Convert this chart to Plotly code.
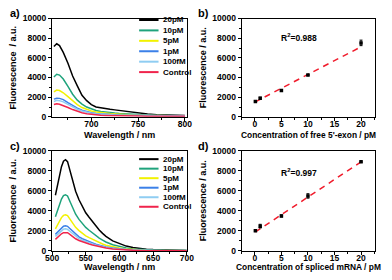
import plotly.graph_objects as go

# ---------------- data ----------------
series_names = ["20pM", "10pM", "5pM", "1pM", "100fM", "Control"]
series_colors = ["#000000", "#1fa37c", "#f2f200", "#3b80e8", "#8fcdf2", "#f0244c"]

wl_a = [660, 663, 666, 670, 675, 680, 685, 690, 695, 700, 705, 710, 715, 720, 725,
        730, 740, 750, 760, 770, 780, 790, 800]
a_20pM = [7150, 7430, 7250, 6550, 5450, 4150, 3150, 2200, 1650, 1250, 1000, 900, 830, 770,
          710, 640, 500, 350, 280, 220, 180, 150, 130]
a_10pM = [4050, 4330, 4250, 3850, 3100, 2300, 1700, 1300, 1000, 800, 650, 540, 470, 420,
          380, 340, 280, 220, 180, 150, 130, 110, 100]
a_5pM = [2550, 2720, 2680, 2450, 2050, 1600, 1250, 950, 750, 600, 500, 420, 370, 330,
         300, 270, 220, 180, 150, 130, 110, 100, 90]
a_1pM = [1800, 1900, 1880, 1750, 1450, 1150, 880, 680, 520, 420, 350, 300, 260, 230,
         210, 190, 160, 140, 120, 110, 100, 90, 80]
a_100fM = [1550, 1680, 1650, 1520, 1270, 1000, 780, 600, 470, 380, 320, 270, 240, 210,
           190, 170, 150, 130, 120, 110, 100, 95, 90]
a_control = [1250, 1320, 1280, 1150, 950, 740, 560, 420, 320, 250, 200, 170, 150, 130,
             120, 110, 90, 80, 70, 60, 55, 50, 50]

wl_c = [505, 508, 511, 514, 517, 520, 523, 526, 530, 535, 540, 545, 550, 555, 560, 565,
        570, 575, 580, 590, 600, 610, 620, 630, 640, 650, 670, 700]
c_20pM = [5550, 6600, 7600, 8400, 8950, 9100, 8900, 8200, 7200, 5950, 5100, 4400, 3800,
          3350, 2900, 2450, 2080, 1750, 1450, 1000, 700, 480, 330, 230, 170, 130, 80, 50]
c_10pM = [3400, 4060, 4680, 5170, 5510, 5600, 5480, 5040, 4420, 3660, 3140, 2710, 2340,
          2060, 1790, 1510, 1280, 1080, 890, 620, 430, 300, 200, 140, 100, 80, 50, 30]
c_5pM = [2200, 2610, 3010, 3320, 3540, 3600, 3520, 3240, 2840, 2350, 2020, 1740, 1500,
         1320, 1150, 970, 820, 690, 570, 400, 280, 190, 130, 90, 70, 50, 30, 20]
c_1pM = [1650, 1850, 2100, 2320, 2460, 2500, 2450, 2250, 1980, 1640, 1400, 1210, 1050,
         920, 800, 670, 570, 480, 400, 280, 190, 130, 90, 60, 50, 35, 20, 15]
c_100fM = [1450, 1630, 1850, 2040, 2170, 2200, 2150, 1980, 1740, 1440, 1230, 1060, 920,
           810, 700, 590, 500, 420, 350, 240, 170, 120, 80, 55, 40, 30, 20, 10]
c_control = [1150, 1350, 1550, 1710, 1820, 1850, 1810, 1670, 1460, 1210, 1040, 900, 770,
             680, 590, 500, 420, 360, 290, 200, 140, 100, 70, 45, 35, 25, 15, 10]

conc_b = [0.1, 1, 5, 10, 20]
fluor_b = [1570, 1900, 2680, 4250, 7520]
err_b = [60, 100, 80, 60, 280]
fit_b_x = [0, 20]
fit_b_y = [1500, 7120]

conc_d = [0.1, 1, 5, 10, 20]
fluor_d = [2020, 2470, 3490, 5480, 8880]
err_d = [60, 180, 100, 220, 60]
fit_d_x = [0.1, 20]
fit_d_y = [1890, 8880]

r2_b = "R<sup>2</sup>=0.988"
r2_d = "R<sup>2</sup>=0.997"

xtitle_a = "Wavelength / nm"
xtitle_b = "Concentration of free 5'-exon / pM"
xtitle_c = "Wavelength / nm"
xtitle_d = "Concentration of spliced mRNA / pM"

# ---------------- figure ----------------
FONT = "Arial, Liberation Sans, sans-serif"
fig = go.Figure()

spectra_a = [a_20pM, a_10pM, a_5pM, a_1pM, a_100fM, a_control]
spectra_c = [c_20pM, c_10pM, c_5pM, c_1pM, c_100fM, c_control]

for vals, col in zip(spectra_a, series_colors):
    fig.add_trace(go.Scatter(x=wl_a, y=vals, mode="lines", line=dict(color=col, width=1.5),
                             xaxis="x", yaxis="y", showlegend=False))
for vals, col in zip(spectra_c, series_colors):
    fig.add_trace(go.Scatter(x=wl_c, y=vals, mode="lines", line=dict(color=col, width=1.5),
                             xaxis="x3", yaxis="y3", showlegend=False))

for xs, ys, es, fx, fy, xa, ya in [(conc_b, fluor_b, err_b, fit_b_x, fit_b_y, "x2", "y2"),
                                   (conc_d, fluor_d, err_d, fit_d_x, fit_d_y, "x4", "y4")]:
    fig.add_trace(go.Scatter(x=fx, y=fy, mode="lines",
                             line=dict(color="#f01c2c", width=1.5, dash="6px,5px"),
                             xaxis=xa, yaxis=ya, showlegend=False))
    fig.add_trace(go.Scatter(x=xs, y=ys, mode="markers",
                             marker=dict(symbol="square", size=3.5, color="black"),
                             error_y=dict(type="data", array=es, color="black",
                                          thickness=1, width=1.5),
                             xaxis=xa, yaxis=ya, showlegend=False))

W, H = 392, 280
def dom_x(p0, p1):
    return [p0 / W, p1 / W]
def dom_y(top, bottom):
    return [1 - bottom / H, 1 - top / H]

tickfont = dict(family=FONT, size=8.5, color="black", weight="bold")
titlefont = dict(family=FONT, size=9, color="black", weight="bold")

def axis_common(**kw):
    d = dict(showline=True, mirror=True, linecolor="black", linewidth=1,
             ticks="outside", ticklen=3, tickwidth=1, tickcolor="black",
             showgrid=False, zeroline=False, tickfont=tickfont, tickformat="d")
    d.update(kw)
    return d

ytitle_spec = "Fluorescence  / a.u."
ytitle_cal = "Fluorescence / a.u."

fig.update_layout(
    width=W, height=H, margin=dict(l=0, r=0, t=0, b=0),
    paper_bgcolor="white", plot_bgcolor="white", showlegend=False,
    font=dict(family=FONT, color="black"),
    xaxis=axis_common(domain=dom_x(46.7, 186.5), range=[658, 802], dtick=50,
                      minor=dict(ticks="outside", ticklen=2, dtick=25, tickcolor="black"),
                      ticklabelstandoff=-4, anchor="y"),
    yaxis=axis_common(domain=dom_y(14, 116), range=[0, 10000], dtick=2000,
                      minor=dict(ticks="outside", ticklen=2, dtick=1000, tickcolor="black"),
                      title=dict(text=ytitle_spec, font=titlefont, standoff=4),
                      anchor="x"),
    xaxis2=axis_common(domain=dom_x(243.3, 382), range=[-2.5, 22.7], dtick=5,
                       minor=dict(ticks="outside", ticklen=2, dtick=2.5, tickcolor="black"),
                       ticklabelstandoff=-4, anchor="y2"),
    yaxis2=axis_common(domain=dom_y(14, 116), range=[0, 10000], dtick=2000,
                       minor=dict(ticks="outside", ticklen=2, dtick=1000, tickcolor="black"),
                       title=dict(text=ytitle_cal, font=titlefont, standoff=4),
                       anchor="x2"),
    xaxis3=axis_common(domain=dom_x(46.7, 186.5), range=[500, 700], dtick=50,
                       minor=dict(ticks="outside", ticklen=2, dtick=25, tickcolor="black"),
                       ticklabelstandoff=-4, anchor="y3"),
    yaxis3=axis_common(domain=dom_y(151, 255), range=[0, 10000], dtick=2000,
                       minor=dict(ticks="outside", ticklen=2, dtick=1000, tickcolor="black"),
                       title=dict(text=ytitle_spec, font=titlefont, standoff=4),
                       anchor="x3"),
    xaxis4=axis_common(domain=dom_x(243.3, 382), range=[-2.5, 22.7], dtick=5,
                       minor=dict(ticks="outside", ticklen=2, dtick=2.5, tickcolor="black"),
                       ticklabelstandoff=-4, anchor="y4"),
    yaxis4=axis_common(domain=dom_y(151, 255), range=[0, 10000], dtick=2000,
                       minor=dict(ticks="outside", ticklen=2, dtick=1000, tickcolor="black"),
                       title=dict(text=ytitle_cal, font=titlefont, standoff=4),
                       anchor="x4"),
)

shapes = []
annotations = []

# x-axis titles placed just below the tick labels
for txt, xa, py, size in [(xtitle_a, "x", 135, 9), (xtitle_b, "x2", 135, 8.4),
                          (xtitle_c, "x3", 271.5, 9), (xtitle_d, "x4", 271.5, 8.4)]:
    annotations.append(dict(text=txt, xref=f"{xa} domain", yref="paper", x=0.5, y=1 - py / H,
                            xanchor="center", yanchor="middle", showarrow=False,
                            font=dict(family=FONT, size=size, color="black", weight="bold")))

# manual legends (compact rows like the original)
legfont = dict(family=FONT, size=8, color="black", weight="bold")
for (xa, ya, y0, step) in [("x", "y", 0.985, 0.106), ("x3", "y3", 0.915, 0.095)]:
    for i, (name, col) in enumerate(zip(series_names, series_colors)):
        yy = y0 - i * step
        shapes.append(dict(type="line", xref=f"{xa} domain", yref=f"{ya} domain",
                           x0=0.646, x1=0.79, y0=yy, y1=yy,
                           line=dict(color=col, width=2)))
        annotations.append(dict(text=name, xref=f"{xa} domain", yref=f"{ya} domain",
                                x=0.81, y=yy, xanchor="left", yanchor="middle",
                                showarrow=False, font=legfont))

# R^2 labels
annotations.append(dict(text=r2_b, xref="x2 domain", yref="y2 domain", x=0.43, y=0.88,
                        showarrow=False, font=dict(family=FONT, size=8.5, color="black", weight="bold")))
annotations.append(dict(text=r2_d, xref="x4 domain", yref="y4 domain", x=0.43, y=0.86,
                        showarrow=False, font=dict(family=FONT, size=8.5, color="black", weight="bold")))

# panel labels
panel_font = dict(family=FONT, size=11, color="black", weight="bold")
for txt, px, py in [("a)", 1, 8), ("b)", 196, 8), ("c)", 1, 146), ("d)", 196, 146)]:
    annotations.append(dict(text=txt, xref="paper", yref="paper", x=px / W, y=1 - py / H,
                            xanchor="left", yanchor="middle", showarrow=False, font=panel_font))

fig.update_layout(shapes=shapes, annotations=annotations)
fig.write_html("out.html", config={"displayModeBar": False},
               post_script="document.body.style.margin='0';document.body.style.padding='0';")
